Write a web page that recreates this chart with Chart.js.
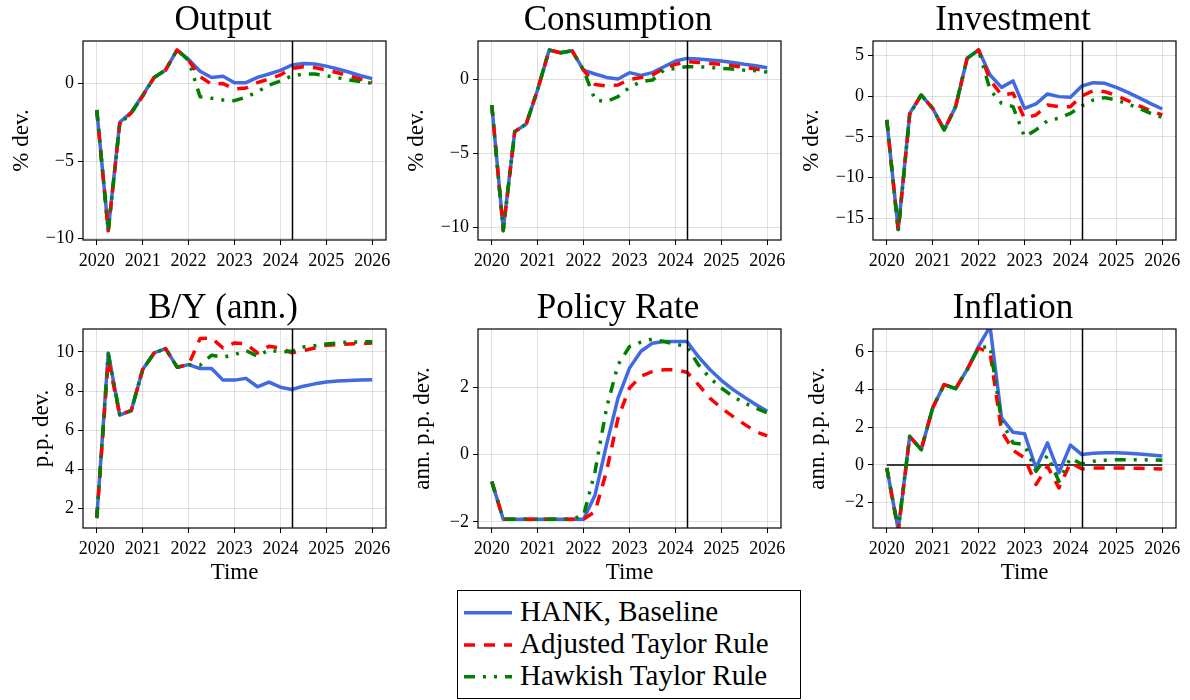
<!DOCTYPE html>
<html>
<head>
<meta charset="utf-8">
<script src="https://cdn.jsdelivr.net/npm/chart.js@4.4.1/dist/chart.umd.min.js"></script>
<style>
  html, body { margin: 0; padding: 0; background: #fff; }
  body { width: 1190px; height: 700px; position: relative; overflow: hidden; font-family: "Liberation Serif", serif; }
  canvas.panel { position: absolute; }
  #legend { position: absolute; left: 457px; top: 590px; width: 344px; height: 109px; border: 1px solid #000; box-sizing: border-box; background: #fff; }
  #legend-lines { position: absolute; left: 0; top: 0; }
  .legend-text { position: absolute; left: 520px; font-size: 29px; line-height: 29px; white-space: nowrap; color: #000; }
</style>
</head>
<body>
<canvas class="panel" id="p-output" width="396" height="280" style="left:0px;top:0px"></canvas>
<canvas class="panel" id="p-consumption" width="396" height="280" style="left:395px;top:0px"></canvas>
<canvas class="panel" id="p-investment" width="396" height="280" style="left:790px;top:0px"></canvas>
<canvas class="panel" id="p-debt" width="396" height="305" style="left:0px;top:288px"></canvas>
<canvas class="panel" id="p-rate" width="396" height="305" style="left:395px;top:288px"></canvas>
<canvas class="panel" id="p-inflation" width="396" height="305" style="left:790px;top:288px"></canvas>
<div id="legend"></div>
<svg id="legend-lines" width="1190" height="700"></svg>

<script>
// ---- time axis (quarterly) ----
const quarters = [2020.00, 2020.25, 2020.50, 2020.75, 2021.00, 2021.25, 2021.50, 2021.75,
                  2022.00, 2022.25, 2022.50, 2022.75, 2023.00, 2023.25, 2023.50, 2023.75,
                  2024.00, 2024.25, 2024.50, 2024.75, 2025.00, 2025.25, 2025.50, 2025.75, 2026.00];
const yearTicks = [2020, 2021, 2022, 2023, 2024, 2025, 2026];
const forecastStart = 2024.25;

const seriesNames = ['HANK, Baseline', 'Adjusted Taylor Rule', 'Hawkish Taylor Rule'];

// ---- Output (% dev.) ----
const hankOutput = [-1.7, -9.45, -2.5, -1.85, -0.75, 0.4, 0.88, 2.17, 1.56, 0.8, 0.4, 0.47, 0.06, 0.06, 0.4, 0.62, 0.85, 1.2, 1.3, 1.26, 1.13, 0.94, 0.73, 0.51, 0.32];
const adjOutput  = [-1.7, -9.5, -2.6, -1.9, -0.8, 0.4, 0.88, 2.17, 1.5, 0.45, -0.04, 0.0, -0.35, -0.28, 0.06, 0.3, 0.56, 0.98, 1.09, 1.03, 0.88, 0.7, 0.49, 0.28, 0.09];
const hawkOutput = [-1.7, -9.5, -2.6, -1.9, -0.8, 0.4, 0.88, 2.17, 1.5, -0.85, -0.95, -1.05, -1.1, -0.88, -0.52, -0.1, 0.17, 0.5, 0.62, 0.62, 0.5, 0.38, 0.24, 0.13, 0.02];
const outputTicks = [-10, -5, 0];

// ---- Consumption (% dev.) ----
const hankCons = [-1.75, -10.1, -3.54, -3.03, -0.7, 1.95, 1.77, 1.9, 0.6, 0.34, 0.11, 0.0, 0.43, 0.25, 0.43, 0.83, 1.21, 1.39, 1.35, 1.28, 1.21, 1.12, 1.0, 0.9, 0.76];
const adjCons  = [-1.75, -10.2, -3.54, -3.03, -0.7, 1.95, 1.77, 1.9, 0.6, -0.36, -0.47, -0.4, -0.02, 0.1, 0.27, 0.72, 0.99, 1.17, 1.12, 1.05, 0.99, 0.9, 0.78, 0.67, 0.56];
const hawkCons = [-1.75, -10.2, -3.54, -3.03, -0.7, 1.95, 1.77, 1.9, 0.6, -1.41, -1.52, -1.19, -0.56, -0.18, -0.07, 0.6, 0.72, 0.83, 0.83, 0.78, 0.72, 0.67, 0.6, 0.56, 0.47];
const consTicks = [-10, -5, 0];

// ---- Investment (% dev.) ----
const hankInv = [-2.9, -16.4, -2.1, 0.16, -1.48, -4.14, -1.27, 4.67, 5.7, 2.62, 1.1, 1.89, -1.48, -0.94, 0.29, -0.04, -0.12, 1.27, 1.68, 1.6, 1.1, 0.49, -0.2, -0.9, -1.56];
const adjInv  = [-2.9, -16.55, -2.2, 0.16, -1.48, -4.14, -1.27, 4.67, 5.7, 2.0, 0.16, 0.37, -2.7, -2.3, -1.07, -1.27, -1.27, 0.04, 0.7, 0.57, 0.08, -0.53, -1.19, -1.76, -2.3];
const hawkInv = [-2.9, -16.55, -2.2, 0.16, -1.48, -4.14, -1.27, 4.67, 5.7, 0.78, -0.86, -1.27, -4.96, -4.14, -3.0, -2.7, -2.1, -1.19, -0.45, -0.16, -0.45, -0.94, -1.48, -2.1, -2.58];
const invTicks = [-15, -10, -5, 0, 5];

// ---- B/Y annualised (p.p. dev.) ----
const hankDebt = [1.52, 9.95, 6.77, 7.0, 9.1, 9.95, 10.17, 9.22, 9.35, 9.15, 9.15, 8.56, 8.56, 8.65, 8.22, 8.46, 8.2, 8.08, 8.25, 8.37, 8.46, 8.51, 8.54, 8.56, 8.58];
const adjDebt  = [1.52, 9.6, 6.8, 7.0, 9.1, 9.95, 10.17, 9.22, 9.35, 10.68, 10.71, 10.2, 10.46, 10.41, 9.95, 10.29, 10.2, 9.95, 10.07, 10.2, 10.34, 10.37, 10.41, 10.43, 10.45];
const hawkDebt = [1.52, 9.9, 6.8, 7.0, 9.1, 9.95, 10.17, 9.22, 9.35, 9.32, 9.83, 9.73, 9.86, 10.07, 9.78, 10.1, 10.0, 10.03, 10.25, 10.32, 10.41, 10.46, 10.5, 10.51, 10.52];
const debtTicks = [2, 4, 6, 8, 10];

// ---- Policy rate (ann. p.p. dev.) ----
const hankRate = [-0.8, -1.92, -1.92, -1.92, -1.92, -1.92, -1.92, -1.92, -1.92, -1.2, 0.29, 1.67, 2.56, 3.06, 3.3, 3.35, 3.35, 3.35, 2.9, 2.52, 2.2, 1.93, 1.7, 1.48, 1.28];
const adjRate  = [-0.8, -1.92, -1.92, -1.92, -1.92, -1.92, -1.92, -1.92, -1.92, -1.69, -0.5, 1.08, 1.97, 2.32, 2.46, 2.51, 2.51, 2.44, 2.07, 1.67, 1.38, 1.13, 0.9, 0.68, 0.55];
const hawkRate = [-0.8, -1.92, -1.92, -1.92, -1.92, -1.92, -1.92, -1.92, -1.8, -0.5, 1.38, 2.66, 3.2, 3.33, 3.42, 3.35, 3.27, 3.2, 2.66, 2.27, 1.97, 1.72, 1.53, 1.38, 1.23];
const rateTicks = [-2, 0, 2];

// ---- Inflation (ann. p.p. dev.) ----
const hankInfl = [-0.16, -3.45, 1.52, 0.81, 3.03, 4.27, 4.05, 5.06, 6.3, 7.35, 2.5, 1.73, 1.66, -0.16, 1.17, -0.42, 1.05, 0.55, 0.62, 0.65, 0.65, 0.62, 0.58, 0.53, 0.48];
const adjInfl  = [-0.16, -3.5, 1.52, 0.81, 3.03, 4.27, 4.05, 5.06, 6.21, 5.95, 1.79, 0.78, 0.37, -1.04, -0.07, -1.22, 0.11, -0.21, -0.16, -0.16, -0.16, -0.16, -0.18, -0.2, -0.22];
const hawkInfl = [-0.16, -3.4, 1.52, 0.81, 3.03, 4.27, 4.05, 5.06, 6.21, 6.3, 2.32, 1.17, 1.08, -0.34, 0.5, -0.87, 0.37, 0.04, 0.19, 0.25, 0.28, 0.28, 0.28, 0.26, 0.25];
const inflTicks = [-2, 0, 2, 4, 6];

// ---- styling ----
const FONT = '"Liberation Serif", "Times New Roman", serif';
const seriesStyles = [
  { color: '#4169e1', width: 3.5, dash: [] },
  { color: '#ff0000', width: 3.5, dash: [11, 9] },
  { color: '#008000', width: 3.5, dash: [11, 8, 3, 8, 3, 8] }
];

const panels = [
  { canvas: 'p-output',      title: 'Output',       yLabel: '% dev.',          series: [hankOutput, adjOutput, hawkOutput], yMin: -10.09, yMax: 2.75, yTicks: outputTicks, yTitlePad: 8,  time: false },
  { canvas: 'p-consumption', title: 'Consumption',  yLabel: '% dev.',          series: [hankCons, adjCons, hawkCons],       yMin: -10.83, yMax: 2.56, yTicks: consTicks,   yTitlePad: 8,  time: false },
  { canvas: 'p-investment',  title: 'Investment',   yLabel: '% dev.',          series: [hankInv, adjInv, hawkInv],          yMin: -17.67, yMax: 6.8,  yTicks: invTicks,    yTitlePad: 8,  time: false },
  { canvas: 'p-debt',        title: 'B/Y (ann.)',   yLabel: 'p.p. dev.',       series: [hankDebt, adjDebt, hawkDebt],       yMin: 1.01,   yMax: 11.17, yTicks: debtTicks,  yTitlePad: 28, time: true },
  { canvas: 'p-rate',        title: 'Policy Rate',  yLabel: 'ann. p.p. dev.',  series: [hankRate, adjRate, hawkRate],       yMin: -2.18,  yMax: 3.72, yTicks: rateTicks,   yTitlePad: 14.5, time: true },
  { canvas: 'p-inflation',   title: 'Inflation',    yLabel: 'ann. p.p. dev.',  series: [hankInfl, adjInfl, hawkInfl],       yMin: -3.35,  yMax: 7.22, yTicks: inflTicks,   yTitlePad: 14.5, time: true, zeroLine: true }
];

const fmtTick = v => (v < 0 ? '\u2212' + Math.abs(v) : String(v));

// Frame, forecast marker, steady-state line and panel title
const framePlugin = {
  id: 'frame',
  beforeDatasetsDraw(chart, args, opts) {
    if (!opts.zeroLine) return;
    const { ctx, scales: { x, y } } = chart;
    const yy = y.getPixelForValue(0);
    ctx.save();
    ctx.strokeStyle = '#000';
    ctx.lineWidth = 1.5;
    ctx.beginPath();
    ctx.moveTo(x.getPixelForValue(quarters[0]), yy);
    ctx.lineTo(x.getPixelForValue(quarters[quarters.length - 1]), yy);
    ctx.stroke();
    ctx.restore();
  },
  afterDatasetsDraw(chart, args, opts) {
    const { ctx, chartArea: a, scales: { x } } = chart;
    ctx.save();
    // forecast marker
    const vx = Math.round(x.getPixelForValue(opts.marker)) + 0.5;
    ctx.strokeStyle = '#000';
    ctx.lineWidth = 1.5;
    ctx.beginPath();
    ctx.moveTo(vx, a.top);
    ctx.lineTo(vx, a.bottom);
    ctx.stroke();
    // axes frame
    ctx.lineWidth = 1.2;
    ctx.strokeStyle = '#000';
    ctx.strokeRect(a.left, a.top, a.right - a.left, a.bottom - a.top);
    // title
    ctx.fillStyle = '#000';
    ctx.font = '35px ' + FONT;
    ctx.textAlign = 'center';
    ctx.textBaseline = 'alphabetic';
    ctx.fillText(opts.title, (a.left + a.right) / 2 - 11.5, a.top - 11.5);
    ctx.restore();
  }
};

Chart.defaults.font.family = FONT;
Chart.defaults.color = '#000';

panels.forEach(p => {
  const el = document.getElementById(p.canvas);
  const bottomSpace = p.time ? 65 : 40;
  new Chart(el, {
    type: 'line',
    data: {
      datasets: p.series.map((vals, i) => ({
        label: seriesNames[i],
        data: quarters.map((q, k) => ({ x: q, y: vals[k] })),
        borderColor: seriesStyles[i].color,
        borderWidth: seriesStyles[i].width,
        borderDash: seriesStyles[i].dash,
        borderJoinStyle: 'round',
        pointRadius: 0,
        tension: 0,
        fill: false,
        clip: 0,
        order: 3 - i
      }))
    },
    options: {
      responsive: false,
      animation: false,
      devicePixelRatio: 1,
      layout: { padding: { top: 41, right: 10, left: 0, bottom: 0 } },
      plugins: {
        legend: { display: false },
        tooltip: { enabled: false },
        frame: { title: p.title, marker: forecastStart, zeroLine: !!p.zeroLine }
      },
      scales: {
        x: {
          type: 'linear',
          min: 2019.7,
          max: 2026.3,
          afterBuildTicks: s => { s.ticks = yearTicks.map(v => ({ value: v })); },
          afterFit: s => { s.height = bottomSpace; },
          ticks: { autoSkip: false, maxRotation: 0, padding: 5, color: '#000', font: { size: 18 }, callback: v => String(v) },
          grid: { color: 'rgba(0,0,0,0.12)', lineWidth: 1, drawTicks: true, tickLength: 5, tickColor: '#000', tickWidth: 1 },
          border: { display: false },
          title: { display: p.time, text: 'Time', color: '#000', font: { size: 23 }, padding: { top: 0, bottom: 6 } }
        },
        y: {
          type: 'linear',
          min: p.yMin,
          max: p.yMax,
          afterBuildTicks: s => { s.ticks = p.yTicks.map(v => ({ value: v })); },
          afterFit: s => { s.width = 83; },
          ticks: { padding: 4, color: '#000', font: { size: 18 }, callback: fmtTick },
          grid: { color: 'rgba(0,0,0,0.12)', lineWidth: 1, drawTicks: true, tickLength: 5, tickColor: '#000', tickWidth: 1 },
          border: { display: false },
          title: { display: true, text: p.yLabel, color: '#000', font: { size: 23 }, padding: { top: p.yTitlePad, bottom: 0 } }
        }
      }
    },
    plugins: [framePlugin]
  });
});

// ---- legend ----
(function buildLegend() {
  const svg = document.getElementById('legend-lines');
  const rowLineY = [612.7, 645, 676.7];
  const rowBaseline = [621.7, 653.3, 685.3];
  seriesNames.forEach((name, i) => {
    const st = seriesStyles[i];
    const line = document.createElementNS('http://www.w3.org/2000/svg', 'line');
    line.setAttribute('x1', 464);
    line.setAttribute('x2', 512);
    line.setAttribute('y1', rowLineY[i]);
    line.setAttribute('y2', rowLineY[i]);
    line.setAttribute('stroke', st.color);
    line.setAttribute('stroke-width', st.width);
    if (st.dash.length) line.setAttribute('stroke-dasharray', st.dash.join(' '));
    svg.appendChild(line);

    const t = document.createElement('div');
    t.className = 'legend-text';
    t.textContent = name;
    t.style.top = (rowBaseline[i] - 24.3) + 'px';
    document.body.appendChild(t);
  });
})();
</script>
</body>
</html>
